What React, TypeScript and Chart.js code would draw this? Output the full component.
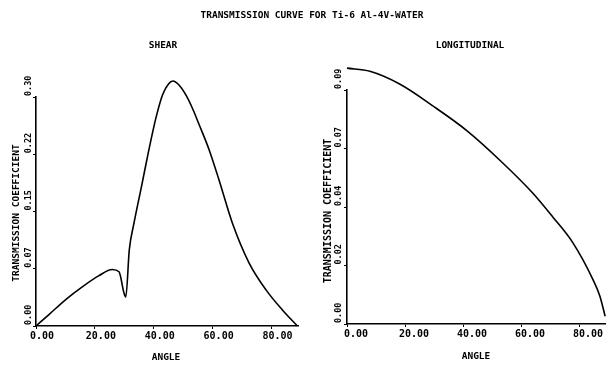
import React, { useEffect, useRef } from "react";
import { Chart, registerables } from "chart.js";

Chart.register(...registerables);

const FONT = "'DejaVu Sans Mono', monospace";

// ---- data ----
const SHEAR_ANGLE = [0, 4.4, 10.2, 15.6, 21.4, 25.9, 28.2, 29.9, 30.5, 31.7, 33.3, 35.9, 38.2, 40.7, 43, 45, 46.5, 48.5, 51, 53.5, 55.4, 58.8, 62.2, 66.7, 72.4, 78.2, 83.7, 88.8];
const SHEAR_COEF = [0, 0.015, 0.035, 0.051, 0.066, 0.074, 0.071, 0.043, 0.038, 0.1, 0.135, 0.184, 0.228, 0.272, 0.303, 0.317, 0.321, 0.316, 0.302, 0.282, 0.264, 0.231, 0.191, 0.135, 0.0825, 0.047, 0.021, 0];

const LONG_ANGLE = [0, 7.9, 18.3, 29.7, 41.4, 52.8, 64.1, 71, 77.9, 84.8, 87.2, 89];
const LONG_COEF = [0.0984, 0.0972, 0.0922, 0.0838, 0.0743, 0.0629, 0.0503, 0.0411, 0.0312, 0.0171, 0.0107, 0.003];

const X_TICKS = [0, 20, 40, 60, 80];
const X_TICK_LABELS = ["0.00", "20.00", "40.00", "60.00", "80.00"];

const SHEAR_Y_TICKS = [0, 0.075, 0.15, 0.225, 0.3];
const SHEAR_Y_LABELS = ["0.00", "0.07", "0.15", "0.22", "0.30"];

const LONG_Y_TICKS = [0, 0.0225, 0.045, 0.0675, 0.09];
const LONG_Y_LABELS = ["0.00", "0.02", "0.04", "0.07", "0.09"];

const MAIN_TITLE = "TRANSMISSION CURVE FOR Ti-6 Al-4V-WATER";
const SHEAR_TITLE = "SHEAR";
const LONG_TITLE = "LONGITUDINAL";
const X_TITLE = "ANGLE";
const Y_TITLE = "TRANSMISSION COEFFICIENT";

const W = 606;
const H = 365;

const decorPlugin = {
  id: "decor",
  afterDraw(chart: any, _args: any, opts: any) {
    const ctx = chart.ctx;
    ctx.save();
    ctx.fillStyle = "#000";
    for (const t of opts.texts || []) {
      ctx.save();
      ctx.font = `bold ${t.size}px ${FONT}`;
      ctx.translate(t.x, t.y);
      if (t.rotate) ctx.rotate(-Math.PI / 2);
      ctx.textAlign = "center";
      ctx.textBaseline = "middle";
      ctx.fillText(t.text, 0, 0);
      ctx.restore();
    }
    const ys = chart.scales.y;
    const labels: string[] = opts.yLabels || [];
    ctx.font = `bold ${opts.yLabelSize}px ${FONT}`;
    ys.ticks.forEach((tk: any, i: number) => {
      const py = ys.getPixelForValue(tk.value);
      ctx.save();
      ctx.translate(opts.yLabelX, py - 1);
      ctx.rotate(-Math.PI / 2);
      ctx.textAlign = "left";
      ctx.textBaseline = "middle";
      ctx.fillText(labels[i] ?? "", 0, 0);
      ctx.restore();
    });
    ctx.restore();
  },
};

function makeConfig(p: any) {
  return {
    type: "line",
    data: {
      datasets: [
        {
          data: p.xs.map((x: number, i: number) => ({ x, y: p.ys[i] })),
          borderColor: "#000",
          borderWidth: 1.6,
          pointRadius: 0,
          cubicInterpolationMode: "monotone",
          clip: false,
          fill: false,
        },
      ],
    },
    options: {
      responsive: false,
      animation: false,
      events: [],
      layout: { padding: p.padding },
      plugins: {
        legend: { display: false },
        tooltip: { enabled: false },
        title: { display: false },
        decor: { texts: p.texts, yLabels: p.yLabels, yLabelX: p.yLabelX, yLabelSize: 8.5 },
      },
      scales: {
        x: {
          type: "linear",
          min: 0,
          max: p.xMax,
          afterBuildTicks: (s: any) => {
            s.ticks = X_TICKS.map((v) => ({ value: v }));
          },
          afterFit: (s: any) => {
            s.height = p.xHeight;
          },
          grid: { drawOnChartArea: false, tickLength: 3, color: "#000", lineWidth: 1 },
          border: { display: true, color: "#000", width: 1.6 },
          ticks: {
            color: "#000",
            font: { family: FONT, size: 10, weight: "bold" },
            padding: 1,
            maxRotation: 0,
            minRotation: 0,
            autoSkip: false,
            labelOffset: p.labelOffset,
            callback: (_v: any, i: number) => X_TICK_LABELS[i],
          },
        },
        y: {
          type: "linear",
          min: 0,
          max: p.yMax,
          afterBuildTicks: (s: any) => {
            s.ticks = p.yTicks.map((v: number) => ({ value: v }));
          },
          afterFit: (s: any) => {
            s.width = p.yWidth;
          },
          grid: { drawOnChartArea: false, tickLength: 3, color: "#000", lineWidth: 1 },
          border: { display: true, color: "#000", width: 1.6 },
          ticks: { display: false },
        },
      },
    },
    plugins: [decorPlugin],
  };
}

function ChartCanvas({ config }: { config: any }) {
  const ref = useRef<HTMLCanvasElement | null>(null);
  useEffect(() => {
    if (!ref.current) return;
    const chart = new Chart(ref.current, config);
    return () => chart.destroy();
  }, [config]);
  return (
    <canvas
      ref={ref}
      width={W}
      height={H}
      style={{ position: "absolute", left: 0, top: 0, width: W, height: H }}
    />
  );
}

const shearConfig = makeConfig({
  xs: SHEAR_ANGLE,
  ys: SHEAR_COEF,
  xMax: 89,
  yMax: 0.3,
  yTicks: SHEAR_Y_TICKS,
  yLabels: SHEAR_Y_LABELS,
  yLabelX: 29,
  padding: { left: 0, right: W - 298, top: 97, bottom: 0 },
  yWidth: 36,
  xHeight: H - 326,
  labelOffset: 6,
  texts: [
    { text: MAIN_TITLE, x: 312, y: 16, size: 9.5 },
    { text: SHEAR_TITLE, x: 163, y: 46, size: 9.5 },
    { text: Y_TITLE, x: 17, y: 213, size: 9.5, rotate: true },
    { text: X_TITLE, x: 166, y: 358, size: 9.5 },
  ],
});

const longConfig = makeConfig({
  xs: LONG_ANGLE,
  ys: LONG_COEF,
  xMax: 89.3,
  yMax: 0.09,
  yTicks: LONG_Y_TICKS,
  yLabels: LONG_Y_LABELS,
  yLabelX: 339,
  padding: { left: 303, right: 0, top: 90, bottom: 0 },
  yWidth: 44,
  xHeight: H - 324,
  labelOffset: 9,
  texts: [
    { text: LONG_TITLE, x: 470, y: 46, size: 9.5 },
    { text: Y_TITLE, x: 328, y: 211, size: 10, rotate: true },
    { text: X_TITLE, x: 476, y: 357, size: 9.5 },
  ],
});

export default function App() {
  return (
    <div style={{ position: "absolute", left: 0, top: 0, width: W, height: H, background: "#fff", overflow: "hidden" }}>
      <ChartCanvas config={shearConfig} />
      <ChartCanvas config={longConfig} />
    </div>
  );
}
